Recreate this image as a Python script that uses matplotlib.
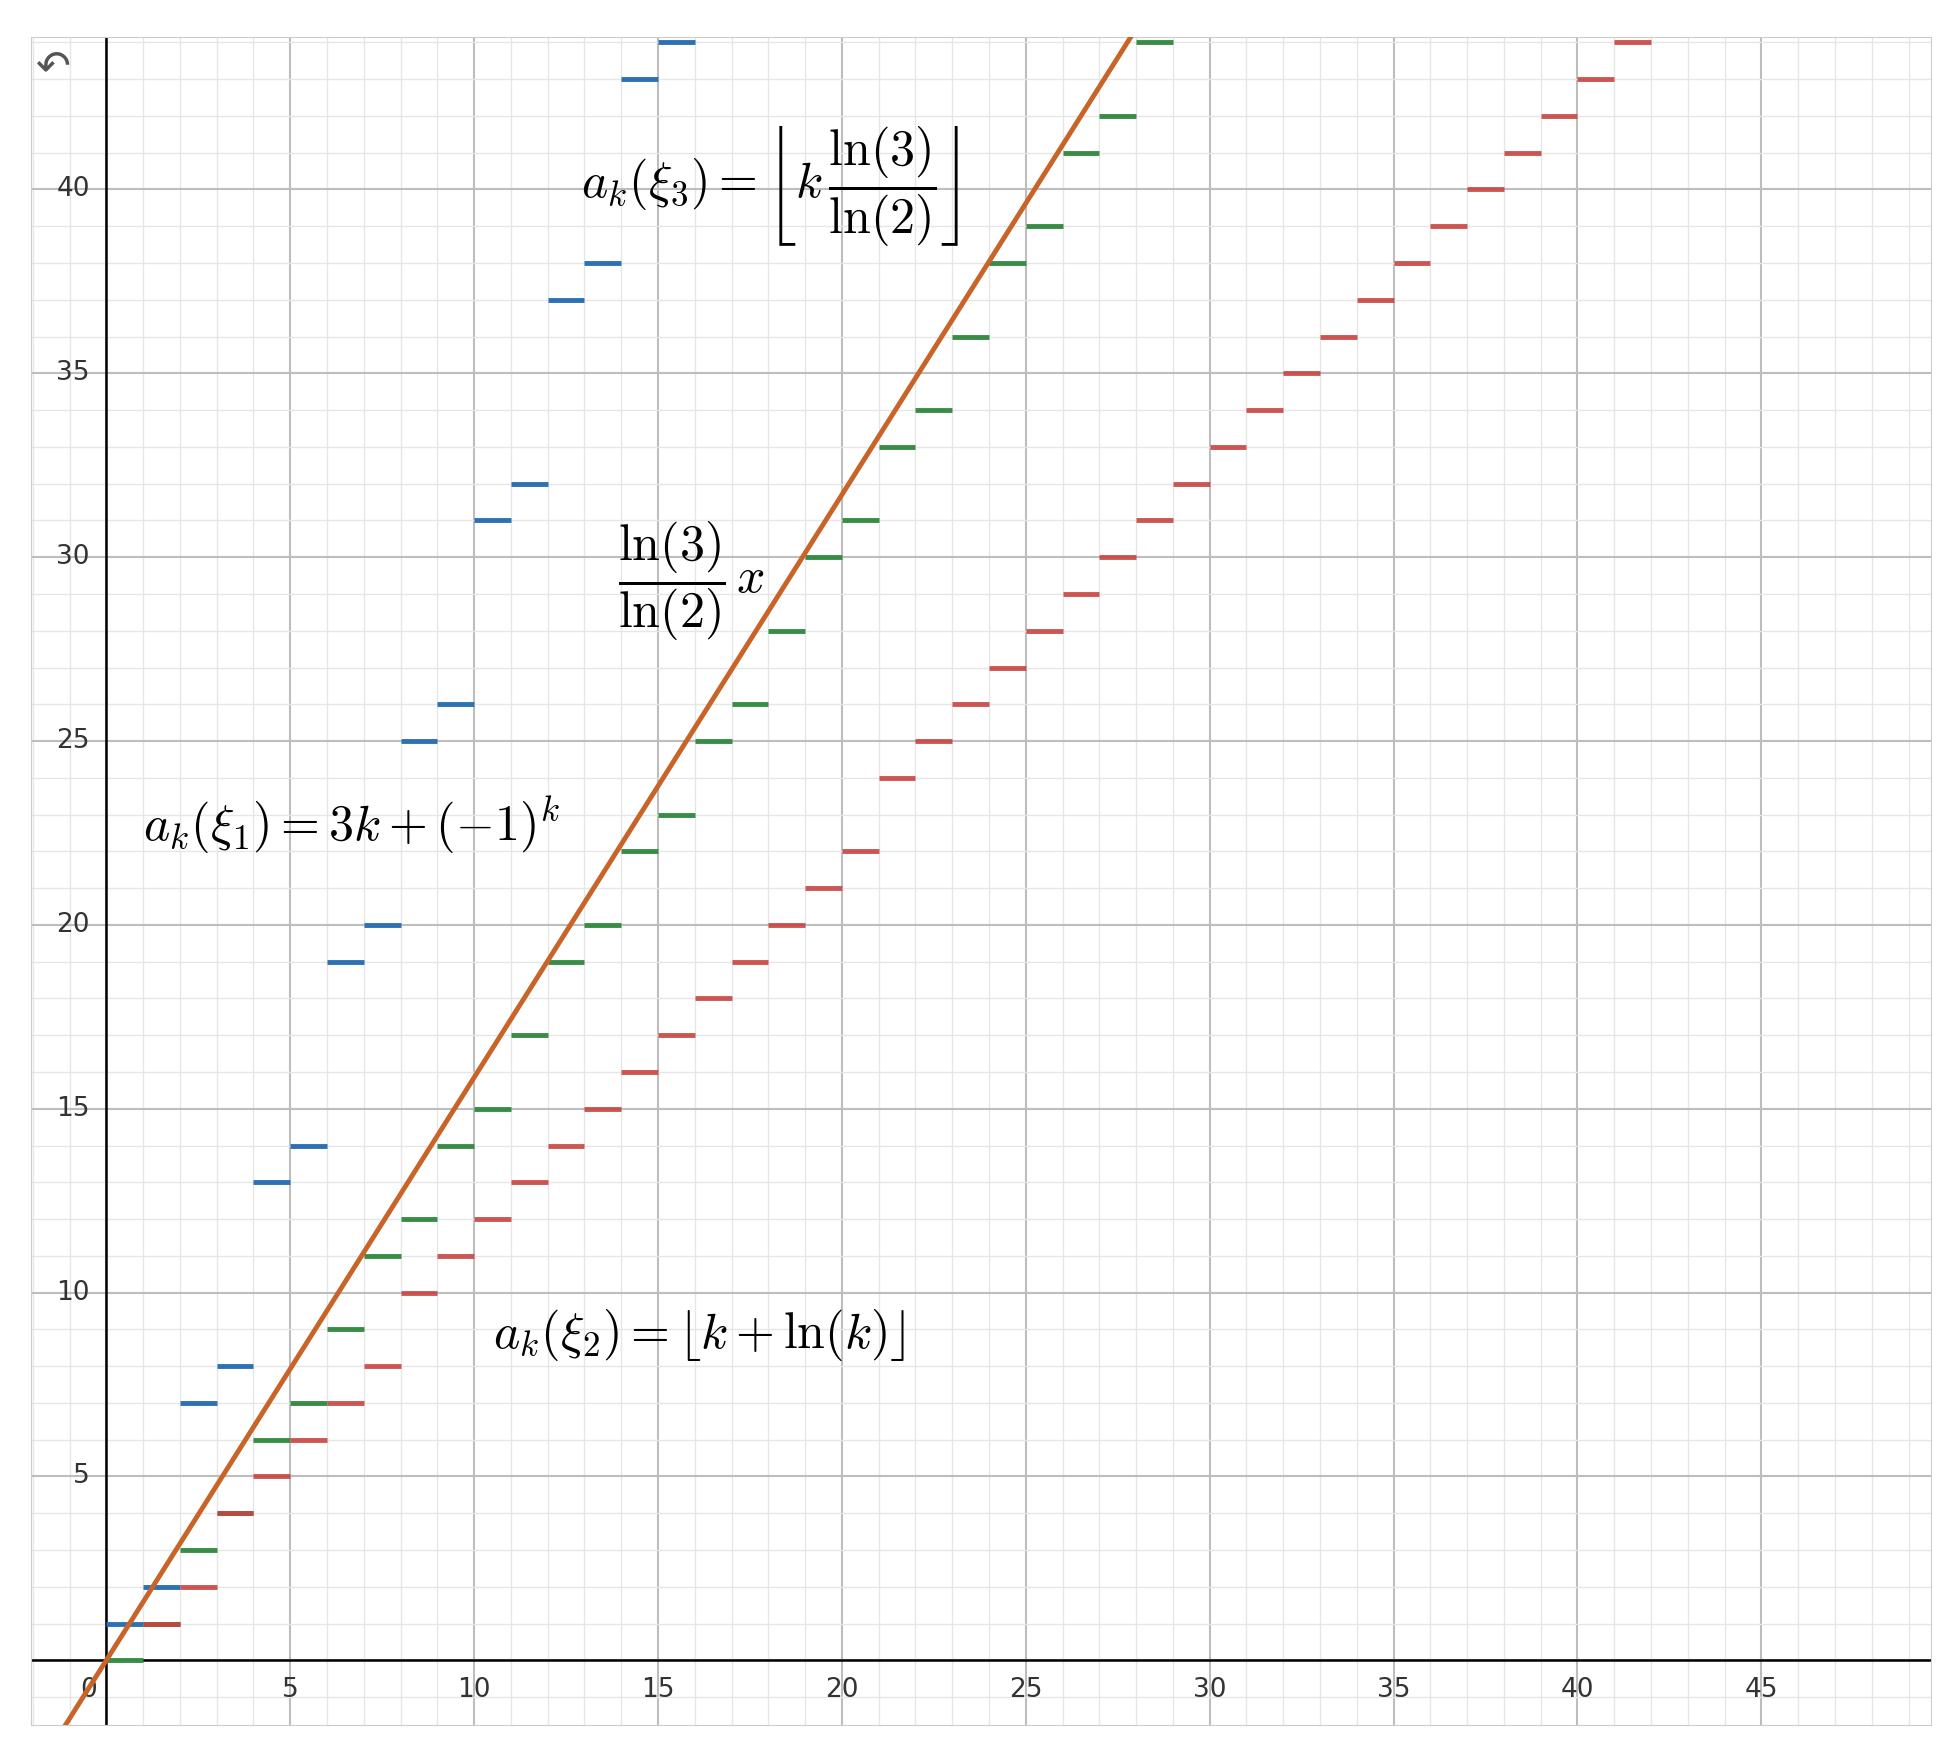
import matplotlib.pyplot as plt
import numpy as np

# step values, each drawn on [k, k+1]
blue_k = list(range(0, 16))
blue_y = [1, 2, 7, 8, 13, 14, 19, 20, 25, 26, 31, 32, 37, 38, 43, 44]
red_k = list(range(1, 42))
red_y = [1, 2, 4, 5, 6, 7, 8, 10, 11, 12, 13, 14, 15, 16, 17, 18, 19, 20, 21, 22,
         24, 25, 26, 27, 28, 29, 30, 31, 32, 33, 34, 35, 36, 37, 38, 39, 40, 41, 42, 43, 44]
green_k = list(range(0, 29))
green_y = [0, 1, 3, 4, 6, 7, 9, 11, 12, 14, 15, 17, 19, 20, 22, 23, 25, 26, 28, 30,
           31, 33, 34, 36, 38, 39, 41, 42, 44]
slope = 1.58496  # ln(3)/ln(2)

plt.rcParams['mathtext.fontset'] = 'cm'
fig = plt.figure(figsize=(19.56, 17.57), dpi=100)
ax = fig.add_axes([0.016, 0.018, 0.971, 0.961])
xmin, xmax, ymin, ymax = -2.04, 49.6, -1.77, 44.15
ax.set_xlim(xmin, xmax)
ax.set_ylim(ymin, ymax)

# grid
for v in range(-2, 50):
    ax.axvline(v, color='#e6e6e6' if v % 5 else '#bdbdbd', lw=1 if v % 5 else 1.5, zorder=0)
for v in range(-1, 45):
    ax.axhline(v, color='#e6e6e6' if v % 5 else '#bdbdbd', lw=1 if v % 5 else 1.5, zorder=0)
ax.axhline(0, color='black', lw=1.8, zorder=1)
ax.axvline(0, color='black', lw=1.8, zorder=1)

ax.hlines(green_y, green_k, np.array(green_k) + 1, color='#388c46', lw=3.5, zorder=3)
ax.hlines(blue_y, blue_k, np.array(blue_k) + 1, color='#2d70b3', lw=3.5, zorder=3)
ax.hlines(red_y, red_k, np.array(red_k) + 1, color='#c74440', lw=3.5, zorder=3, alpha=0.9)

lx = np.array([xmin, 30])
ax.plot(lx, slope * lx, color='#c86428', lw=3.5, zorder=4)

# tick labels, desmos style
for v in range(5, 50, 5):
    ax.text(v, -0.45, str(v), ha='center', va='top', fontsize=19, color='#333333')
for v in range(5, 45, 5):
    ax.text(-0.45, v, str(v), ha='right', va='center', fontsize=19, color='#333333')
ax.text(-0.25, -0.45, '0', ha='right', va='top', fontsize=19, color='#333333')
ax.text(-1.95, 43.9, '\u21b6', ha='left', va='top', fontsize=30, color='#555555')

ax.text(12.9, 40.1, r'$a_k(\xi_3) = \left\lfloor k\,\dfrac{\ln(3)}{\ln(2)}\right\rfloor$',
        fontsize=36, va='center')
ax.text(1.0, 22.7, r'$a_k(\xi_1) = 3k + (-1)^k$', fontsize=36, va='center')
ax.text(10.5, 8.85, r'$a_k(\xi_2) = \lfloor k + \ln(k)\rfloor$', fontsize=36, va='center')
ax.text(13.9, 29.35, r'$\dfrac{\ln(3)}{\ln(2)}\,x$', fontsize=36, va='center')

ax.set_xticks([])
ax.set_yticks([])
for s in ax.spines.values():
    s.set_color('#cccccc')

fig.savefig('out.png')
